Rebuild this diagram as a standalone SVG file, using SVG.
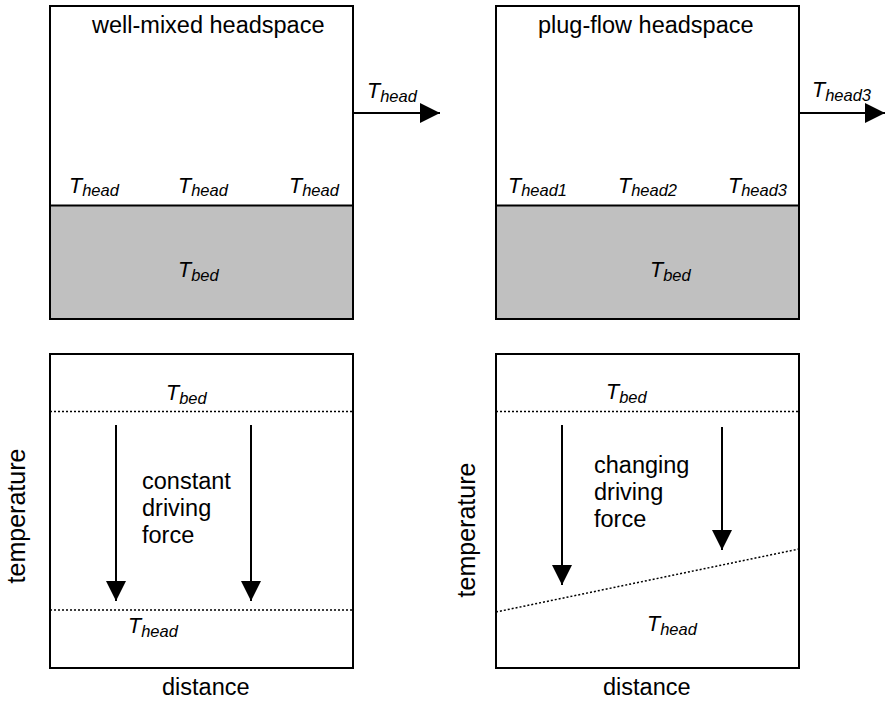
<svg xmlns="http://www.w3.org/2000/svg" width="885" height="706" viewBox="0 0 885 706">
<style>
.box{fill:#fff;stroke:#000;stroke-width:2}
.bed{fill:#c0c0c0;stroke:#000;stroke-width:2}
.dot{stroke:#000;stroke-width:1.5;stroke-dasharray:2 2;fill:none}
.arr{stroke:#000;stroke-width:2;fill:none;marker-end:url(#ah)}
text{font-family:"Liberation Sans",Arial,sans-serif;font-size:23.5px;fill:#000}
.v{font-style:italic;font-size:21.5px}
.s{font-size:16.5px}
.ax{font-size:25px}
</style>
<defs>
<marker id="ah" markerUnits="userSpaceOnUse" viewBox="0 0 20 20" markerWidth="20" markerHeight="20" refX="20" refY="10" orient="auto">
<path d="M0,0 L20,10 L0,20 Z" fill="#000"/>
</marker>
</defs>

<g id="well-mixed">
<rect class="box" x="50" y="6" width="303" height="313"/>
<rect class="bed" x="50" y="205.5" width="303" height="113.5"/>
<text x="92" y="33">well-mixed headspace</text>
<text class="v" x="69" y="192.5">T<tspan class="s" dy="3.5">head</tspan></text>
<text class="v" x="178" y="192.5">T<tspan class="s" dy="3.5">head</tspan></text>
<text class="v" x="289" y="192.5">T<tspan class="s" dy="3.5">head</tspan></text>
<text class="v" x="178" y="277">T<tspan class="s" dy="3.5">bed</tspan></text>
<text class="v" x="367" y="98">T<tspan class="s" dy="3.5">head</tspan></text>
</g>

<g id="plug-flow">
<rect class="box" x="496" y="6" width="303" height="313"/>
<rect class="bed" x="496" y="205.5" width="303" height="113.5"/>
<text x="538" y="33">plug-flow headspace</text>
<text class="v" x="508" y="192.5">T<tspan class="s" dy="3.5">head1</tspan></text>
<text class="v" x="618" y="192.5">T<tspan class="s" dy="3.5">head2</tspan></text>
<text class="v" x="728" y="192.5">T<tspan class="s" dy="3.5">head3</tspan></text>
<text class="v" x="650" y="277">T<tspan class="s" dy="3.5">bed</tspan></text>
<text class="v" x="812" y="97">T<tspan class="s" dy="3.5">head3</tspan></text>
</g>

<g id="plot-constant">
<rect class="box" x="50" y="354" width="303" height="314"/>
<line class="dot" x1="50" y1="411.5" x2="353" y2="411.5"/>
<line class="dot" x1="50" y1="610" x2="353" y2="610"/>
<text class="v" x="166" y="400">T<tspan class="s" dy="3.5">bed</tspan></text>
<text class="v" x="128" y="633">T<tspan class="s" dy="3.5">head</tspan></text>
<text x="142" y="489">constant</text>
<text x="142" y="516">driving</text>
<text x="142" y="542.5">force</text>
<text x="162" y="695">distance</text>
<text class="ax" transform="translate(25,516) rotate(-90)" text-anchor="middle">temperature</text>
</g>

<g id="plot-changing">
<rect class="box" x="496" y="354" width="303" height="314"/>
<line class="dot" x1="496" y1="411.5" x2="799" y2="411.5"/>
<line class="dot" x1="496" y1="612" x2="799" y2="549"/>
<text class="v" x="606" y="399">T<tspan class="s" dy="3.5">bed</tspan></text>
<text class="v" x="647" y="631">T<tspan class="s" dy="3.5">head</tspan></text>
<text x="594" y="473">changing</text>
<text x="594" y="500">driving</text>
<text x="594" y="526.5">force</text>
<text x="603" y="695">distance</text>
<text class="ax" transform="translate(475,530) rotate(-90)" text-anchor="middle">temperature</text>
</g>

<g id="connectors">
<line class="arr" x1="353" y1="113" x2="440" y2="113"/>
<line class="arr" x1="799" y1="113" x2="885" y2="113"/>
<line class="arr" x1="116" y1="425" x2="116" y2="601"/>
<line class="arr" x1="251" y1="425" x2="251" y2="601"/>
<line class="arr" x1="562" y1="425" x2="562" y2="585"/>
<line class="arr" x1="722" y1="427" x2="722" y2="550"/>
</g>
</svg>
